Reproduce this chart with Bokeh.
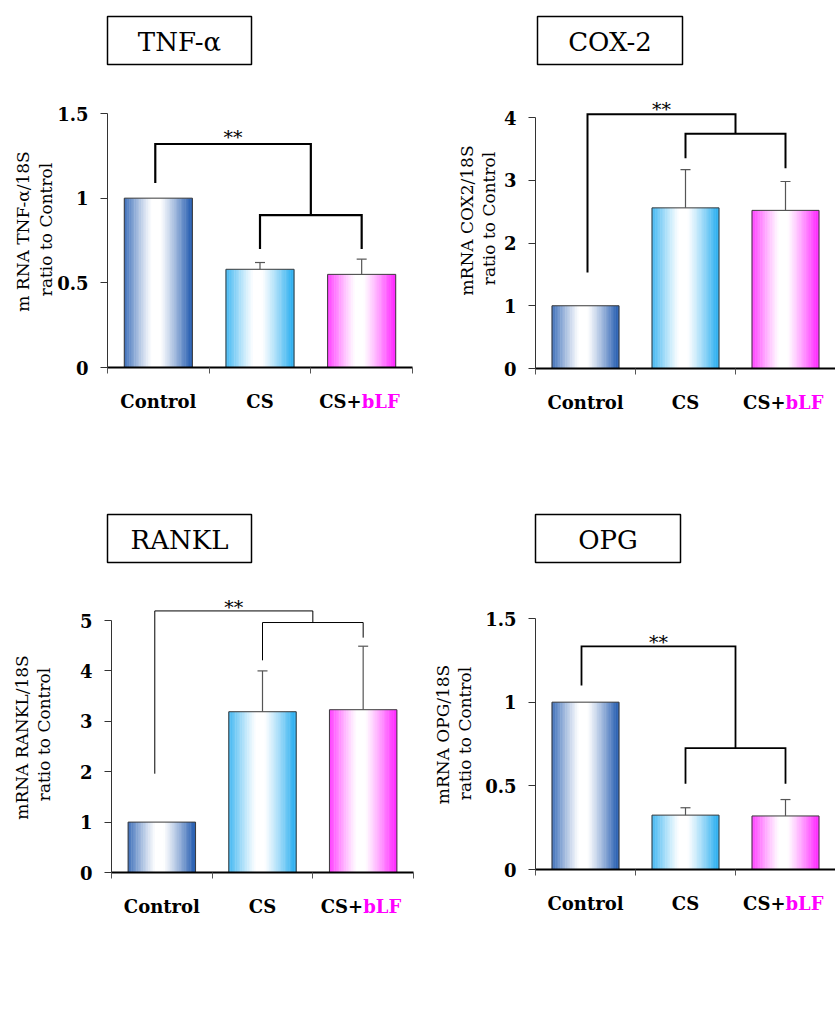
import numpy as np
from bokeh.plotting import figure
from bokeh.models import Range1d, FixedTicker, Label
from bokeh.layouts import column, row
from bokeh.embed import file_html
from bokeh.resources import INLINE

# ---------------- data ----------------
categories = ["Control", "CS", "CS+bLF"]

tnf_values = [1.0, 0.58, 0.55]
tnf_errors = [0.0, 0.04, 0.09]
cox2_values = [1.0, 2.56, 2.52]
cox2_errors = [0.0, 0.61, 0.46]
rankl_values = [1.0, 3.19, 3.23]
rankl_errors = [0.0, 0.81, 1.26]
opg_values = [1.0, 0.325, 0.32]
opg_errors = [0.0, 0.044, 0.098]

tnf_ticks = [0, 0.5, 1, 1.5]
tnf_tick_labels = ["0", "0.5", "1", "1.5"]
cox2_ticks = [0, 1, 2, 3, 4]
cox2_tick_labels = ["0", "1", "2", "3", "4"]
rankl_ticks = [0, 1, 2, 3, 4, 5]
rankl_tick_labels = ["0", "1", "2", "3", "4", "5"]
opg_ticks = [0, 0.5, 1, 1.5]
opg_tick_labels = ["0", "0.5", "1", "1.5"]

# significance brackets: control-leg bottom, top, join level, CS-leg bottom, bLF-leg bottom
tnf_bracket = [1.09, 1.32, 0.90, 0.70, 0.70]
cox2_bracket = [1.53, 4.05, 3.74, 3.35, 3.19]
rankl_bracket = [1.96, 5.19, 4.96, 4.21, 4.66]
opg_bracket = [1.10, 1.334, 0.725, 0.512, 0.512]
sig_label = "**"

titles = ["TNF-\u03b1", "COX-2", "RANKL", "OPG"]
ylabels = [("m RNA TNF-\u03b1/18S", "ratio to Control"),
           ("mRNA COX2/18S", "ratio to Control"),
           ("mRNA RANKL/18S", "ratio to Control"),
           ("mRNA OPG/18S", "ratio to Control")]

# ---------------- styling / layout ----------------
SERIF = "DejaVu Serif"
EDGE_COLORS = [(0x2c, 0x62, 0xb3), (0x30, 0xb0, 0xf0), (0xff, 0x2e, 0xff)]
BAR_W = 0.67
N_STRIPS = 40

# page-pixel geometry of each panel (canvas origin, size, axis positions, title box...)
specs = [
    dict(origin=(0, 0), w=420, h=500, fx=(107, 412), fy=(367, 113),
         box=(107, 16, 251, 64), yl=((22, 231), (45, 229)), ctrl_x=0.47, lw=2.2, ast=7),
    dict(origin=(420, 0), w=415, h=500, fx=(535, 835), fy=(368, 117),
         box=(537, 16, 682, 64), yl=((466, 220), (488, 218)), ctrl_x=0.52, lw=2, ast=5),
    dict(origin=(0, 500), w=420, h=510, fx=(111, 413), fy=(872, 620),
         box=(107, 514, 251, 562), yl=((21, 737), (43, 734)), ctrl_x=0.43, lw=1, ast=4),
    dict(origin=(420, 500), w=415, h=510, fx=(535, 835), fy=(869, 618),
         box=(535, 514, 680, 562), yl=((442, 734), (464, 733)), ctrl_x=0.46, lw=1.8, ast=4),
]


def mix(edge, m):
    r, g, b = [int(round(255 + (c - 255) * m)) for c in edge]
    return "#%02x%02x%02x" % (r, g, b)


def make_panel(spec, title, ylab, vals, errs, ticks, tick_labels, bracket):
    ox, oy = spec["origin"]
    W, H = spec["w"], spec["h"]
    fl, fr = spec["fx"]
    y0, ytop = spec["fy"]
    top_val = ticks[-1]
    ppu = (y0 - ytop) / top_val
    cpx = (fr - fl) / 3.0

    def X(px):
        return (px - fl) / cpx

    def Y(py):
        return (y0 - py) / ppu

    p = figure(width=W, height=H,
               x_range=Range1d(X(ox), X(ox + W)), y_range=Range1d(Y(oy + H), Y(oy)),
               output_backend="svg", toolbar_location=None, title=None,
               min_border_left=0, min_border_right=0, min_border_top=0, min_border_bottom=0)
    p.grid.visible = False
    p.outline_line_color = None
    p.background_fill_color = "white"
    p.border_fill_color = "white"

    # axes (fixed at the data origin)
    xa = p.xaxis[0]
    xa.fixed_location = 0
    xa.bounds = (0, 3)
    xa.ticker = FixedTicker(ticks=[0, 1, 2, 3])
    xa.major_label_text_color = None
    xa.axis_line_color = "black"
    xa.axis_line_width = 2
    xa.major_tick_out = 6
    xa.major_tick_in = 0
    xa.major_tick_line_color = "#555555"
    xa.minor_tick_line_color = None

    ya = p.yaxis[0]
    ya.fixed_location = 0
    ya.ticker = FixedTicker(ticks=ticks)
    ya.bounds = (0, top_val)
    ya.major_label_overrides = {t: l for t, l in zip(ticks, tick_labels)}
    ya.axis_line_color = "#333333"
    ya.axis_line_width = 1
    ya.major_tick_out = 7
    ya.major_tick_in = 0
    ya.major_tick_line_color = "#333333"
    ya.minor_tick_line_color = None
    ya.major_label_standoff = 12
    ya.major_label_text_font = SERIF
    ya.major_label_text_font_style = "bold"
    ya.major_label_text_font_size = "18px"
    ya.major_label_text_color = "black"

    # gradient bars
    us = (np.arange(N_STRIPS) + 0.5) / N_STRIPS
    m = np.clip((np.abs(us - 0.47) - 0.06) / 0.44, 0, 1) ** 1.15
    centers = [i + 0.5 for i in range(len(categories))]
    for i, (v, edge) in enumerate(zip(vals, EDGE_COLORS)):
        xs = centers[i] - BAR_W / 2 + us * BAR_W
        cols = [mix(edge, mk) for mk in m]
        p.vbar(x=xs, top=v, bottom=0, width=BAR_W / N_STRIPS * 1.25,
               fill_color=cols, line_color=None)
    p.vbar(x=centers, top=vals, bottom=0, width=BAR_W, fill_color=None,
           line_color="#3a3a3a", line_width=1)

    # error bars
    ex = [c for c, e in zip(centers, errs) if e > 0]
    ev = [v for v, e in zip(vals, errs) if e > 0]
    ee = [v + e for v, e in zip(vals, errs) if e > 0]
    cap = 5 / cpx
    p.segment(x0=ex, y0=ev, x1=ex, y1=ee, line_color="#555555", line_width=1.2)
    p.segment(x0=[x - cap for x in ex], y0=ee, x1=[x + cap for x in ex], y1=ee,
              line_color="#555555", line_width=1.2)

    # significance bracket
    b_ctrl, b_top, b_join, b_cs, b_blf = bracket
    cx = spec["ctrl_x"]
    p.multi_line(xs=[[cx, cx, 2.0, 2.0], [1.5, 1.5, 2.5, 2.5]],
                 ys=[[b_ctrl, b_top, b_top, b_join], [b_cs, b_join, b_join, b_blf]],
                 line_color="black", line_width=spec["lw"], line_join="miter")
    p.add_layout(Label(x=(cx + 2.0) / 2, y=b_top + spec["ast"] / ppu, text=sig_label,
                       text_align="center", text_baseline="alphabetic",
                       text_font=SERIF, text_font_size="19px", text_color="black"))

    # title box
    bx0, by0, bx1, by1 = spec["box"]
    p.quad(left=[X(bx0)], right=[X(bx1)], bottom=[Y(by1)], top=[Y(by0)],
           fill_color="white", line_color="black", line_width=1.5)
    p.add_layout(Label(x=X((bx0 + bx1) / 2), y=Y((by0 + by1) / 2 + 1), text=title,
                       text_align="center", text_baseline="middle",
                       text_font=SERIF, text_font_size="26px", text_color="black"))

    # y-axis title (two lines)
    for (lx, ly), txt in zip(spec["yl"], ylab):
        p.add_layout(Label(x=X(lx), y=Y(ly), text=txt, angle=np.pi / 2,
                           text_align="center", text_baseline="middle",
                           text_font=SERIF, text_font_size="17px", text_color="black"))

    # category labels
    ly = Y(y0 + 34)
    for c, cat in zip(centers, categories):
        if cat == "CS+bLF":
            p.add_layout(Label(x=c, y=ly, text="CS+", text_align="right", text_baseline="middle",
                               text_font=SERIF, text_font_style="bold", text_font_size="18px",
                               text_color="black"))
            p.add_layout(Label(x=c, y=ly, text="bLF", text_align="left", text_baseline="middle",
                               text_font=SERIF, text_font_style="bold", text_font_size="18px",
                               text_color="#ff00ff"))
        else:
            p.add_layout(Label(x=c, y=ly, text=cat, text_align="center", text_baseline="middle",
                               text_font=SERIF, text_font_style="bold", text_font_size="18px",
                               text_color="black"))
    return p


panels = [
    make_panel(specs[0], titles[0], ylabels[0], tnf_values, tnf_errors, tnf_ticks, tnf_tick_labels, tnf_bracket),
    make_panel(specs[1], titles[1], ylabels[1], cox2_values, cox2_errors, cox2_ticks, cox2_tick_labels, cox2_bracket),
    make_panel(specs[2], titles[2], ylabels[2], rankl_values, rankl_errors, rankl_ticks, rankl_tick_labels, rankl_bracket),
    make_panel(specs[3], titles[3], ylabels[3], opg_values, opg_errors, opg_ticks, opg_tick_labels, opg_bracket),
]

layout = column(row(panels[0], panels[1], spacing=0), row(panels[2], panels[3], spacing=0), spacing=0)
open("out.html", "w").write(file_html(layout, INLINE))
